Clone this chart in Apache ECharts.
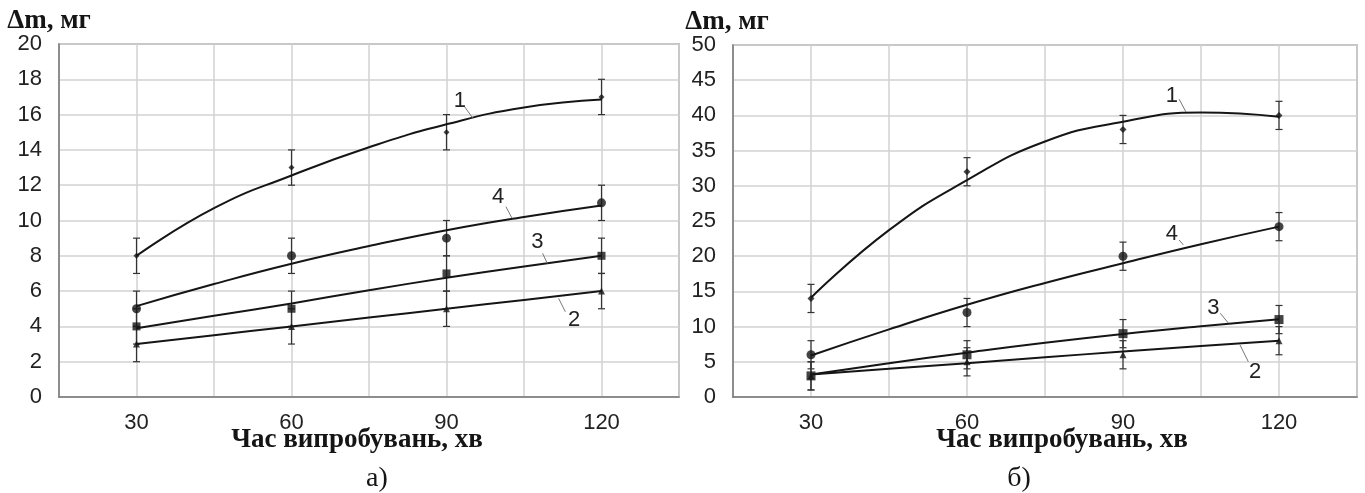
<!DOCTYPE html>
<html>
<head>
<meta charset="utf-8">
<script src="https://cdn.jsdelivr.net/npm/echarts@6/dist/echarts.min.js"></script>
<style>
  html, body { margin: 0; padding: 0; background: #fff; }
  #chart { width: 1365px; height: 493px; }
</style>
</head>
<body>
<div id="chart"></div>
<script>
// час випробувань, хв
const timeX = [30, 60, 90, 120];
const trendX = [30, 45, 60, 75, 90, 105, 120];
const xTickLabels = ['30', '60', '90', '120'];

// панель а) — виміряні точки
const aCurve1 = [8, 13, 15, 17];
const aCurve2 = [3, 4, 5, 6];
const aCurve3 = [4, 5, 7, 8];
const aCurve4 = [5, 8, 9, 11];
const aError = [1, 1, 1, 1];
// панель а) — лінії тренду
const aTrend1 = [8.0, 10.7, 12.55, 14.15, 15.45, 16.4, 16.85];
const aTrend2 = [3.0, 3.5, 4.0, 4.5, 5.0, 5.5, 6.0];
const aTrend3 = [3.9, 4.6, 5.3, 6.05, 6.75, 7.4, 8.0];
const aTrend4 = [5.15, 6.4, 7.55, 8.55, 9.45, 10.2, 10.85];

// панель б) — виміряні точки
const bCurve1 = [14, 32, 38, 40];
const bCurve2 = [3, 5, 6, 8];
const bCurve3 = [3, 6, 9, 11];
const bCurve4 = [6, 12, 20, 24.2];
const bError = [2, 2, 2, 2];
// панель б) — лінії тренду
const bTrend1 = [14.1, 23.7, 30.8, 36.3, 39.1, 40.4, 39.8];
const bTrend2 = [3.2, 4.0, 4.8, 5.65, 6.45, 7.25, 8.0];
const bTrend3 = [3.2, 4.8, 6.3, 7.7, 8.95, 10.05, 11.05];
const bTrend4 = [5.9, 9.6, 13.1, 16.2, 19.0, 21.7, 24.2];

const curveNames = ['1', '2', '3', '4'];

const myChart = echarts.init(document.getElementById('chart'));

const tickFont = 'Liberation Sans, Arial, sans-serif';
const serifFont = 'Liberation Serif, Times New Roman, serif';
const ink = '#151515';

function pairs(xs, ys) {
  return xs.map((x, i) => [x, ys[i]]);
}

function errorData(vals, errs) {
  return timeX.map((x, i) => [x, vals[i] - errs[i], vals[i] + errs[i]]);
}

function renderError(params, api) {
  const x = api.value(0);
  const top = api.coord([x, api.value(2)]);
  const bot = api.coord([x, api.value(1)]);
  const w = 3.5;
  const st = { stroke: '#333', lineWidth: 1.2 };
  return {
    type: 'group',
    children: [
      { type: 'line', shape: { x1: top[0], y1: top[1], x2: bot[0], y2: bot[1] }, style: st },
      { type: 'line', shape: { x1: top[0] - w, y1: top[1], x2: top[0] + w, y2: top[1] }, style: st },
      { type: 'line', shape: { x1: bot[0] - w, y1: bot[1], x2: bot[0] + w, y2: bot[1] }, style: st }
    ]
  };
}

// позиції підписів кривих (у координатах даних) та виносних ліній
const labelSpots = [
  [ // а)
    { text: [92.6, 16.8], lead: [[93.5, 16.45], [95.1, 15.79]] },
    { text: [114.7, 4.36], lead: [[111.7, 5.59], [113.0, 4.83]] },
    { text: [107.6, 8.8], lead: [[108.6, 8.14], [109.5, 7.57]] },
    { text: [100.0, 11.33], lead: [[101.5, 10.78], [102.7, 10.12]] }
  ],
  [ // б)
    { text: [99.4, 42.75], lead: [[100.8, 42.3], [102.1, 40.5]] },
    { text: [115.4, 3.6], lead: [[112.5, 7.39], [114.1, 5.01]] },
    { text: [107.4, 12.6], lead: [[108.7, 11.9], [110.3, 10.47]] },
    { text: [99.4, 23.15], lead: [[100.8, 22.3], [101.6, 21.6]] }
  ]
];

const markerStyle = [
  { symbol: 'diamond', size: [6, 7] },
  { symbol: 'triangle', size: [7, 7] },
  { symbol: 'rect', size: [8, 9] },
  { symbol: 'circle', size: [9, 9] }
];

const panels = [
  { points: [aCurve1, aCurve2, aCurve3, aCurve4], trends: [aTrend1, aTrend2, aTrend3, aTrend4], err: aError },
  { points: [bCurve1, bCurve2, bCurve3, bCurve4], trends: [bTrend1, bTrend2, bTrend3, bTrend4], err: bError }
];

let series = [];
panels.forEach((p, pi) => {
  p.points.forEach((vals, ci) => {
    const spot = labelSpots[pi][ci];
    series.push({
      name: curveNames[ci] + (pi ? 'б' : 'а'),
      type: 'line',
      xAxisIndex: pi,
      yAxisIndex: pi,
      data: pairs(trendX, p.trends[ci]),
      smooth: true,
      showSymbol: false,
      silent: true,
      lineStyle: { color: ink, width: 2 },
      z: 3,
      markPoint: {
        symbol: 'circle',
        symbolSize: 0,
        silent: true,
        label: { show: true, position: 'inside', formatter: '{b}', fontSize: 22, fontFamily: tickFont, color: '#222' },
        data: [{ name: curveNames[ci], coord: spot.text }]
      },
      markLine: {
        symbol: ['none', 'none'],
        silent: true,
        label: { show: false },
        lineStyle: { color: '#777', width: 1, type: 'solid' },
        data: [[{ coord: spot.lead[0] }, { coord: spot.lead[1] }]]
      }
    });
    series.push({
      type: 'custom',
      xAxisIndex: pi,
      yAxisIndex: pi,
      renderItem: renderError,
      encode: { x: 0, y: [1, 2] },
      data: errorData(vals, p.err),
      silent: true,
      z: 2
    });
    series.push({
      type: 'scatter',
      xAxisIndex: pi,
      yAxisIndex: pi,
      symbol: markerStyle[ci].symbol,
      symbolSize: markerStyle[ci].size[pi],
      itemStyle: { color: ink },
      data: pairs(timeX, vals),
      silent: true,
      z: 4
    });
  });
});

function xAxisFor(gi) {
  return {
    type: 'value', gridIndex: gi, min: 15, max: 135, interval: 15,
    axisLine: { show: true, lineStyle: { color: '#7a7a7a', width: 1.5 } },
    axisTick: { show: false },
    splitLine: { show: true, lineStyle: { color: '#d2d2d2', width: 1.5 } },
    axisLabel: {
      fontSize: 22, fontFamily: tickFont, color: '#222', margin: 15,
      showMinLabel: true, showMaxLabel: true,
      formatter: v => (xTickLabels.indexOf(String(v)) >= 0 ? String(v) : '')
    }
  };
}

function yAxisFor(gi, max, step) {
  return {
    type: 'value', gridIndex: gi, min: 0, max: max, interval: step,
    axisLine: { show: true, lineStyle: { color: '#7a7a7a', width: 1.5 } },
    axisTick: { show: false },
    splitLine: { show: true, lineStyle: { color: '#d2d2d2', width: 1.5 } },
    axisLabel: { fontSize: 22, fontFamily: tickFont, color: '#222', margin: 17 }
  };
}

const option = {
  backgroundColor: '#fff',
  animation: false,
  grid: [
    { left: 59, top: 44, width: 620, height: 353, show: true, borderColor: '#8f8f8f', borderWidth: 1.5 },
    { left: 733, top: 45, width: 624, height: 352, show: true, borderColor: '#8f8f8f', borderWidth: 1.5 }
  ],
  xAxis: [xAxisFor(0), xAxisFor(1)],
  yAxis: [yAxisFor(0, 20, 2), yAxisFor(1, 50, 5)],
  graphic: [
    { type: 'text', x: 49, y: 21, style: { text: 'Δm, мг', fontSize: 27, fontWeight: 'bold', fontFamily: serifFont, fill: ink, align: 'center', verticalAlign: 'middle' } },
    { type: 'text', x: 727, y: 22, style: { text: 'Δm, мг', fontSize: 27, fontWeight: 'bold', fontFamily: serifFont, fill: ink, align: 'center', verticalAlign: 'middle' } },
    { type: 'text', x: 357, y: 440, style: { text: 'Час випробувань, хв', fontSize: 27, fontWeight: 'bold', fontFamily: serifFont, fill: ink, align: 'center', verticalAlign: 'middle' } },
    { type: 'text', x: 1062, y: 440, style: { text: 'Час випробувань, хв', fontSize: 27, fontWeight: 'bold', fontFamily: serifFont, fill: ink, align: 'center', verticalAlign: 'middle' } },
    { type: 'text', x: 377, y: 479, style: { text: 'а)', fontSize: 28, fontFamily: serifFont, fill: ink, align: 'center', verticalAlign: 'middle' } },
    { type: 'text', x: 1019, y: 479, style: { text: 'б)', fontSize: 28, fontFamily: serifFont, fill: ink, align: 'center', verticalAlign: 'middle' } }
  ],
  series: series
};

myChart.setOption(option);
window.onresize = function () {
  myChart.resize();
};
</script>
</body>
</html>
